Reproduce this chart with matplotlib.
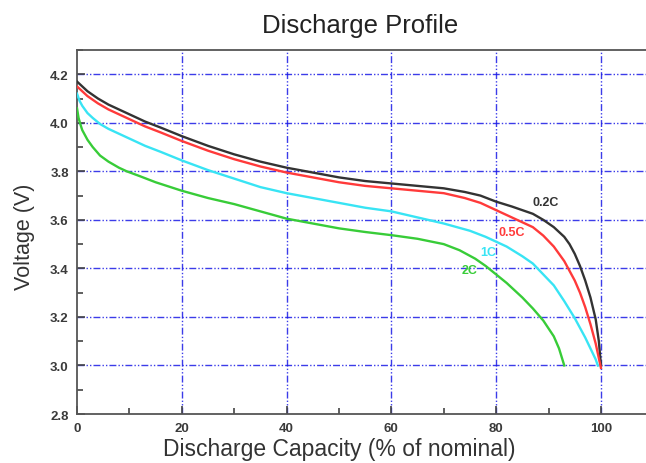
import matplotlib
matplotlib.use("Agg")
import matplotlib.pyplot as plt
from matplotlib.ticker import MultipleLocator

# Data
x_02c = [0, 1, 2, 4, 6, 8, 10, 13, 16, 20, 25, 30, 35, 40, 45, 50, 55, 60, 65, 70,
         74, 77, 80, 83, 85, 87, 89, 91, 93, 94, 95, 96, 97, 98, 99, 99.6, 100]
v_02c = [4.17, 4.15, 4.13, 4.10, 4.075, 4.055, 4.035, 4.005, 3.98, 3.945, 3.905, 3.87, 3.84,
         3.815, 3.795, 3.775, 3.76, 3.75, 3.74, 3.73, 3.715, 3.70, 3.675, 3.655, 3.64, 3.625,
         3.60, 3.57, 3.53, 3.50, 3.46, 3.41, 3.35, 3.28, 3.19, 3.10, 3.0]

x_05c = [0, 1, 2, 4, 6, 8, 10, 13, 16, 20, 25, 30, 35, 40, 45, 50, 55, 60, 65, 70,
         74, 77, 80, 83, 85, 87, 89, 91, 93, 95, 96, 97, 98, 99, 99.6, 100]
v_05c = [4.15, 4.13, 4.11, 4.08, 4.055, 4.035, 4.015, 3.985, 3.96, 3.925, 3.885, 3.85, 3.82,
         3.795, 3.775, 3.755, 3.74, 3.73, 3.72, 3.71, 3.69, 3.67, 3.64, 3.61, 3.59, 3.57,
         3.535, 3.49, 3.43, 3.35, 3.30, 3.24, 3.17, 3.09, 3.03, 2.99]

x_1c = [0, 0.5, 1, 2, 3, 4.4, 6, 8, 10, 13, 16, 20, 25, 30, 35, 40, 45, 50, 55, 60, 65,
        70, 75, 78, 80, 82, 85, 87, 89, 91, 93, 95, 97, 98, 99, 99.4]
v_1c = [4.12, 4.09, 4.07, 4.04, 4.02, 3.995, 3.975, 3.955, 3.935, 3.905, 3.88, 3.845, 3.805,
        3.77, 3.735, 3.71, 3.69, 3.67, 3.65, 3.635, 3.61, 3.585, 3.555, 3.53, 3.51, 3.49,
        3.45, 3.42, 3.375, 3.33, 3.265, 3.195, 3.115, 3.07, 3.025, 3.0]

x_2c = [0, 0.3, 0.7, 1, 1.5, 2, 3, 4.4, 6, 8, 9.5, 12, 15, 20, 25, 30, 35, 40, 45, 50, 55,
        60, 65, 70, 73, 76, 78, 80, 82, 85, 87, 89, 91, 92, 93]
v_2c = [4.06, 4.02, 3.99, 3.97, 3.95, 3.93, 3.90, 3.865, 3.84, 3.815, 3.80, 3.78, 3.755,
        3.72, 3.69, 3.665, 3.635, 3.605, 3.585, 3.565, 3.55, 3.537, 3.522, 3.50, 3.475,
        3.44, 3.41, 3.375, 3.34, 3.28, 3.235, 3.185, 3.12, 3.07, 3.0]

labels = ["0.2C", "0.5C", "1C", "2C"]
label_x = [87.0, 80.5, 76.9, 73.5]
label_y = [3.672, 3.548, 3.468, 3.392]
colors = ["#333333", "#ff3a3a", "#38e4f4", "#38cc38"]

x_ticks = [0, 20, 40, 60, 80, 100]
y_ticks = [2.8, 3.0, 3.2, 3.4, 3.6, 3.8, 4.0, 4.2]

plt.rcParams['font.family'] = ['Liberation Sans', 'DejaVu Sans']

fig = plt.figure(figsize=(6.46, 4.64), dpi=100)
ax = fig.add_axes([0.1192, 0.1056, 0.8808, 0.7845])

grid_kw = dict(color=(0.1, 0.1, 0.9), linewidth=1.0, alpha=0.85,
               dashes=(5, 1.5, 1, 1.5, 1, 1.5))
for gx in x_ticks[1:]:
    ax.axvline(gx, zorder=0, **grid_kw)
for gy in y_ticks[1:]:
    ax.axhline(gy, zorder=0, **grid_kw)

series = [(x_02c, v_02c), (x_05c, v_05c), (x_1c, v_1c), (x_2c, v_2c)]
for (xs, vs), c in zip(series, colors):
    ax.plot(xs, vs, color=c, linewidth=1.7, zorder=3, solid_joinstyle='round')

for lab, lx, ly, c in zip(labels, label_x, label_y, colors):
    ax.text(lx, ly, lab, color=c, fontsize=9, fontweight='bold', zorder=4,
            ha='left', va='center')

ax.set_xlim(0, 108.6)
ax.set_ylim(2.8, 4.3)
ax.set_xticks(x_ticks)
ax.set_yticks(y_ticks)
ax.set_yticklabels([f"{v:.1f}" for v in y_ticks])
ax.xaxis.set_minor_locator(MultipleLocator(10))
ax.yaxis.set_minor_locator(MultipleLocator(0.1))
ax.tick_params(which='major', direction='in', length=6, width=1.2, color='#444444',
               labelsize=9.5, labelcolor='#3a3a3a', pad=6)
ax.tick_params(which='minor', direction='in', length=4, width=1.2, color='#444444')
for lab in ax.get_xticklabels() + ax.get_yticklabels():
    lab.set_fontweight('bold')

for s in ['left', 'bottom', 'top']:
    ax.spines[s].set_color('#555555')
    ax.spines[s].set_linewidth(1.3)
ax.spines['right'].set_visible(False)

ax.set_xlabel("Discharge Capacity (% of nominal)", fontsize=16.5, color='#333333')
ax.xaxis.set_label_coords(50 / 108.6, -0.062)
ax.xaxis.label.set_va('top')
ax.set_ylabel("Voltage (V)", fontsize=15.5, color='#333333')
ax.yaxis.set_label_coords(-0.074, 0.49)
fig.text(0.557, 0.943, "Discharge Profile", fontsize=18.5, color='#222222', ha='center', va='center')

fig.savefig("out.png", dpi=100)
